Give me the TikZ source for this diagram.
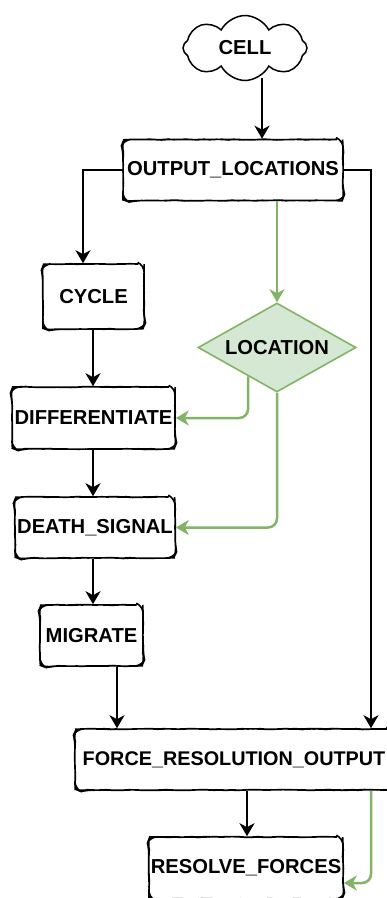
\documentclass[tikz,border=0pt]{standalone}
\usepackage{fontspec}
\setmainfont{Liberation Sans}
\usetikzlibrary{shapes.geometric,shapes.symbols,arrows.meta,calc,decorations.pathmorphing}

\definecolor{gline}{HTML}{82B366}
\definecolor{gfill}{HTML}{D5E8D4}

\tikzset{
  lbl/.style={font=\fontsize{20.2}{22}\selectfont\bfseries, text=black},
  wobble/.style={decoration={random steps,segment length=6pt,amplitude=0.4pt}, decorate},
  stepbox/.style={lbl, draw=black, line width=1.6pt, fill=white, rectangle,
    rounded corners=7pt, inner sep=0pt, wobble},
  cloudbox/.style={lbl, draw=black, line width=1.5pt, fill=white, cloud,
    cloud puffs=8, cloud puff arc=125, aspect=1.9, inner sep=0pt},
  decide/.style={lbl, draw=gline, line width=1.6pt, fill=gfill, diamond,
    shape aspect=1.775, inner sep=0pt},
  arr/.style={draw=black, line width=2.8pt, -{Stealth[length=13pt,width=15pt,inset=4pt]}},
  garr/.style={draw=gline, line width=2.5pt, rounded corners=9pt,
    -{Stealth[length=13pt,width=15pt,inset=4pt]}},
}

\begin{document}
\begin{tikzpicture}[x=1pt, y=-1pt]
  \useasboundingbox (0,0) rectangle (387,898);

  % nodes
  \node[cloudbox, minimum width=124pt, minimum height=65pt] (cell) at (245,48) {CELL};
  \node[stepbox, minimum width=220pt, minimum height=61pt] (out) at (233,170) {OUTPUT\_LOCATIONS};
  \node[stepbox, minimum width=101pt, minimum height=65pt] (cyc) at (93.5,296.5) {CYCLE};
  \node[decide, minimum width=158pt, minimum height=89pt] (loc) at (277,347.5) {LOCATION};
  \node[stepbox, minimum width=163pt, minimum height=62pt] (diff) at (93.5,418) {DIFFERENTIATE};
  \node[stepbox, minimum width=160pt, minimum height=61pt] (death) at (95,527.5) {DEATH\_SIGNAL};
  \node[stepbox, minimum width=103pt, minimum height=61pt] (mig) at (91.5,635.5) {MIGRATE};
  \node[stepbox, font=\fontsize{19.8}{22}\selectfont\bfseries,
        minimum width=318pt, minimum height=61pt] (force) at (234,759.5) {FORCE\_RESOLUTION\_OUTPUT};
  \node[stepbox, minimum width=194pt, minimum height=62pt] (res) at (246,868) {RESOLVE\_FORCES};

  % vertical guide positions of connectors
  \coordinate (xcell) at (262,0);
  \coordinate (xleft) at (83,0);
  \coordinate (xcol) at (93,0);
  \coordinate (xmig) at (117,0);
  \coordinate (xright) at (371,0);
  \coordinate (xres) at (247,0);

  % black flow
  \draw[arr] ($(cell.south -| xcell)+(0,-3)$) -- (out.north -| xcell);
  \draw[arr] (out.west) -| (cyc.north -| xleft);
  \draw[arr] (out.east) -| (force.north -| xright);
  \draw[arr] (cyc.south -| xcol) -- (diff.north -| xcol);
  \draw[arr] (diff.south -| xcol) -- (death.north -| xcol);
  \draw[arr] (death.south -| xcol) -- (mig.north -| xcol);
  \draw[arr] (mig.south -| xmig) -- (force.north -| xmig);
  \draw[arr] (force.south -| xres) -- (res.north -| xres);

  % green flow
  \draw[garr] (out.south -| loc.north) -- (loc.north);
  \draw[garr] (loc.225) |- (diff.east);
  \draw[garr] (loc.south) |- (death.east);
  \draw[garr] (force.south -| xright) |- ($(res.east)+(0,15)$);
\end{tikzpicture}
\end{document}
